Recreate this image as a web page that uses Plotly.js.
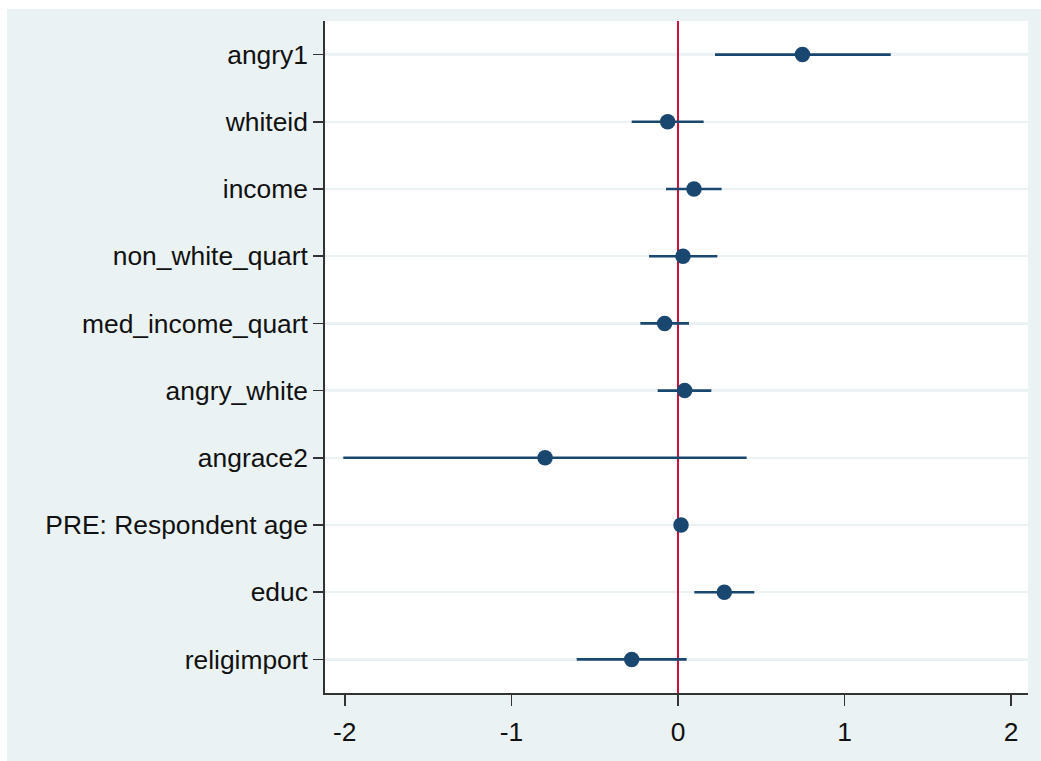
<!DOCTYPE html>
<html>
<head>
<meta charset="utf-8">
<script src="https://cdn.plot.ly/plotly-3.0.1.min.js"></script>
<style>
  html, body { margin: 0; padding: 0; background: #ffffff; }
  #chart { position: absolute; left: 7px; top: 9px; width: 1034px; height: 752px; }
</style>
</head>
<body>
<div id="chart"></div>
<script>
const variables = ["angry1", "whiteid", "income", "non_white_quart", "med_income_quart",
                   "angry_white", "angrace2", "PRE: Respondent age", "educ", "religimport"];
const estimates = [0.747, -0.062, 0.096, 0.030, -0.080, 0.040, -0.798, 0.018, 0.278, -0.278];
const ciLower   = [0.222, -0.278, -0.072, -0.174, -0.226, -0.122, -2.009, 0.008, 0.098, -0.608];
const ciUpper   = [1.277, 0.154, 0.262, 0.236, 0.066, 0.200, 0.412, 0.028, 0.458, 0.052];
const xTicks    = [-2, -1, 0, 1, 2];

const navy = "#1A476F";
const trace = {
  type: "scatter",
  mode: "markers",
  x: estimates,
  y: variables,
  marker: { color: navy, size: 15.5, symbol: "circle" },
  error_x: {
    type: "data",
    symmetric: false,
    array: ciUpper.map((u, i) => u - estimates[i]),
    arrayminus: ciLower.map((l, i) => estimates[i] - l),
    color: navy,
    thickness: 2.6,
    width: 0
  },
  hoverinfo: "x+y",
  showlegend: false
};

const font = { family: "Arial, 'Liberation Sans', sans-serif", size: 26.4, color: "#111111" };

const layout = {
  width: 1034,
  height: 752,
  paper_bgcolor: "#EAF2F3",
  plot_bgcolor: "#FFFFFF",
  margin: { l: 318, r: 13, t: 12, b: 68, pad: 0 },
  font: font,
  showlegend: false,
  xaxis: {
    range: [-2.119, 2.101],
    tickvals: xTicks,
    ticktext: xTicks.map(String),
    ticks: "outside",
    ticklen: 11,
    tickwidth: 1.5,
    tickcolor: "#333333",
    showline: true,
    linecolor: "#333333",
    linewidth: 1.8,
    showgrid: false,
    zeroline: true,
    zerolinecolor: "#D0103A",
    zerolinewidth: 2.4,
    tickfont: font,
    ticklabelstandoff: 4
  },
  yaxis: {
    type: "category",
    categoryorder: "array",
    categoryarray: variables,
    range: [9.5, -0.5],
    ticks: "outside",
    ticklen: 10,
    tickwidth: 1.5,
    tickcolor: "#333333",
    showline: true,
    linecolor: "#333333",
    linewidth: 1.8,
    showgrid: true,
    gridcolor: "#EAF2F3",
    gridwidth: 2.5,
    zeroline: false,
    tickfont: font,
    ticklabelstandoff: 0
  }
};

Plotly.newPlot("chart", [trace], layout, { displayModeBar: false, staticPlot: true });
</script>
</body>
</html>
